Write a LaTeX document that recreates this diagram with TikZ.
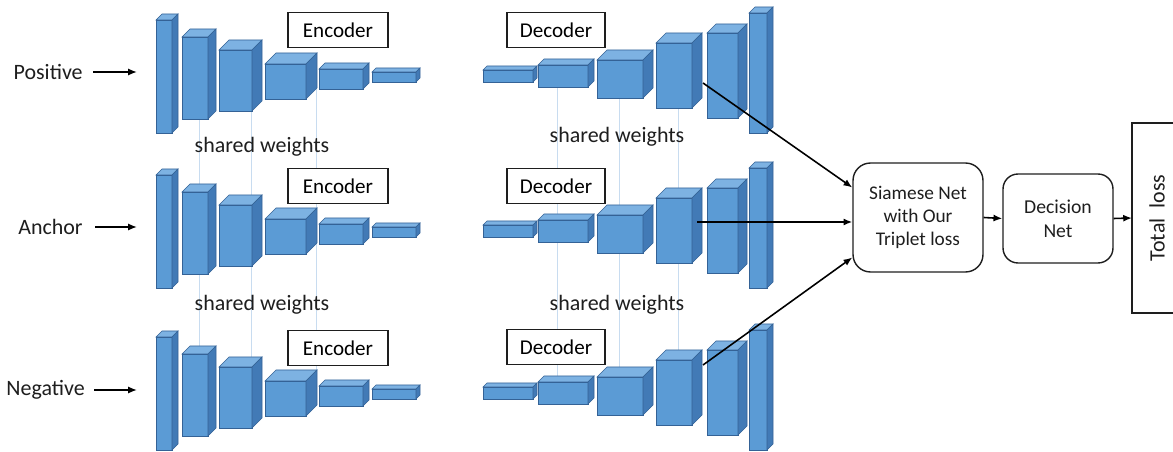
\documentclass[tikz,border=0pt]{standalone}
\usepackage{fontspec}
\setmainfont{Carlito}
\usetikzlibrary{arrows.meta}

\definecolor{layerfront}{RGB}{91,155,213}
\definecolor{layertop}{RGB}{125,178,226}
\definecolor{layerside}{RGB}{66,122,182}
\definecolor{layeredge}{RGB}{52,98,150}
\definecolor{tieline}{RGB}{200,220,240}
\definecolor{inkgray}{RGB}{30,30,30}

% one conv layer as a box: x, y, width, height, depth (all in px)
\newcommand{\layerbox}[5]{%
  \filldraw[layerfront, draw=layeredge, line width=0.3pt] (#1,#2) rectangle ++(#3,#4);
  \filldraw[layertop, draw=layeredge, line width=0.3pt] (#1,#2) -- ++(#5,-#5) -- ++(#3,0) -- ++(-#5,#5) -- cycle;
  \filldraw[layerside, draw=layeredge, line width=0.3pt] (#1+#3,#2) -- ++(#5,-#5) -- ++(0,#4) -- ++(-#5,#5) -- cycle;
}

\tikzset{
  tagbox/.style={draw=inkgray, line width=0.7pt, fill=white, minimum height=0.7cm, inner sep=0pt, font=\fontsize{12}{14}\selectfont},
  netbox/.style={draw=inkgray, line width=0.8pt, rounded corners=0.35cm, align=center, inner sep=0pt},
  flow/.style={-{Latex[length=5pt,width=4pt]}, line width=0.9pt, draw=black},
  lbl/.style={text=inkgray, font=\fontsize{12.5}{15}\selectfont}
}

\begin{document}
\begin{tikzpicture}[x=0.02cm, y=-0.02cm]
  \useasboundingbox (0,0) rectangle (1173,452);

  % faint lines tying the shared layers
  \foreach \ya/\yb in {80/235, 235/392} {
    \foreach \xt in {199,251,316,557,619,678}
      \draw[tieline, line width=0.5pt] (\xt,\ya) -- (\xt,\yb);
  }

  % encoder and decoder stacks, three rows
  \foreach \dy in {0,155,317} {
    \foreach \x/\y/\w/\h/\d in {156/20/16/113/6, 182/37/26/82/8, 219/50/33/61/10,
        265/64/41/35/11, 319/69/44/20/6, 372/72/44/10/4}
      {\layerbox{\x}{\y+\dy}{\w}{\h}{\d}}
    \foreach \x/\y/\w/\h/\d in {483/70/50/12/4, 538/65/50/22/6, 597/60/46/38/10,
        656/43/36/65/10, 707/33/31/85/9, 749/13/18/120/6}
      {\layerbox{\x}{\y+\dy}{\w}{\h}{\d}}
  }

  \node[tagbox, minimum width=2cm] (enc1) at (338,30) {Encoder};
  \node[tagbox, minimum width=2cm] (enc2) at (338,186) {Encoder};
  \node[tagbox, minimum width=2cm] (enc3) at (338,348) {Encoder};
  \node[tagbox, minimum width=1.96cm] (dec1) at (556,30) {Decoder};
  \node[tagbox, minimum width=1.96cm] (dec2) at (556,186) {Decoder};
  \node[tagbox, minimum width=1.96cm] (dec3) at (556,347) {Decoder};

  \node[lbl] (share1) at (262,147) {shared weights};
  \node[lbl] (share2) at (262,305) {shared weights};
  \node[lbl] (share3) at (617,137) {shared weights};
  \node[lbl] (share4) at (617,305) {shared weights};

  % inputs
  \node[lbl, anchor=east, inner xsep=0.2cm] (pos) at (93,72) {Positive};
  \node[lbl, anchor=east, inner xsep=0.24cm] (anc) at (95,227) {Anchor};
  \node[lbl, anchor=east, inner xsep=0.18cm] (neg) at (94,390) {Negative};
  \coordinate (posin) at (137,72);
  \coordinate (ancin) at (137,227);
  \coordinate (negin) at (137,390);
  \draw[flow] (pos.east) -- (posin);
  \draw[flow] (anc.east) -- (ancin);
  \draw[flow] (neg.east) -- (negin);

  % loss part
  \node[netbox, minimum width=2.6cm, minimum height=2.18cm,
        font=\fontsize{11}{13.3}\selectfont, text=inkgray] (sia) at (918,217.5)
        {Siamese Net\\with Our\\Triplet loss};
  \node[netbox, minimum width=2.2cm, minimum height=1.78cm, rounded corners=0.3cm,
        font=\fontsize{11.2}{13.6}\selectfont, text=inkgray] (decide) at (1058,218.5)
        {Decision\\Net};
  \node[rotate=90, lbl] (total) at (1157,218) {Total\ \ loss};
  % box runs off the right edge
  \draw[inkgray, line width=0.8pt] (1190,123) -| (1132,313) -- (1190,313);
  \coordinate (totalin) at (1132,218);

  \coordinate (out1) at (703,83);
  \coordinate (out2) at (697,222);
  \coordinate (out3) at (703,365);
  \draw[flow] (out1) -- ([yshift=0.6cm]sia.west);
  \draw[flow] (out2) -- (out2 -| sia.west);
  \draw[flow] (out3) -- ([yshift=-0.8cm]sia.west);
  \draw[flow] (sia.east) -- (decide.west);
  \draw[flow] (decide.east) -- (totalin);
\end{tikzpicture}
\end{document}
